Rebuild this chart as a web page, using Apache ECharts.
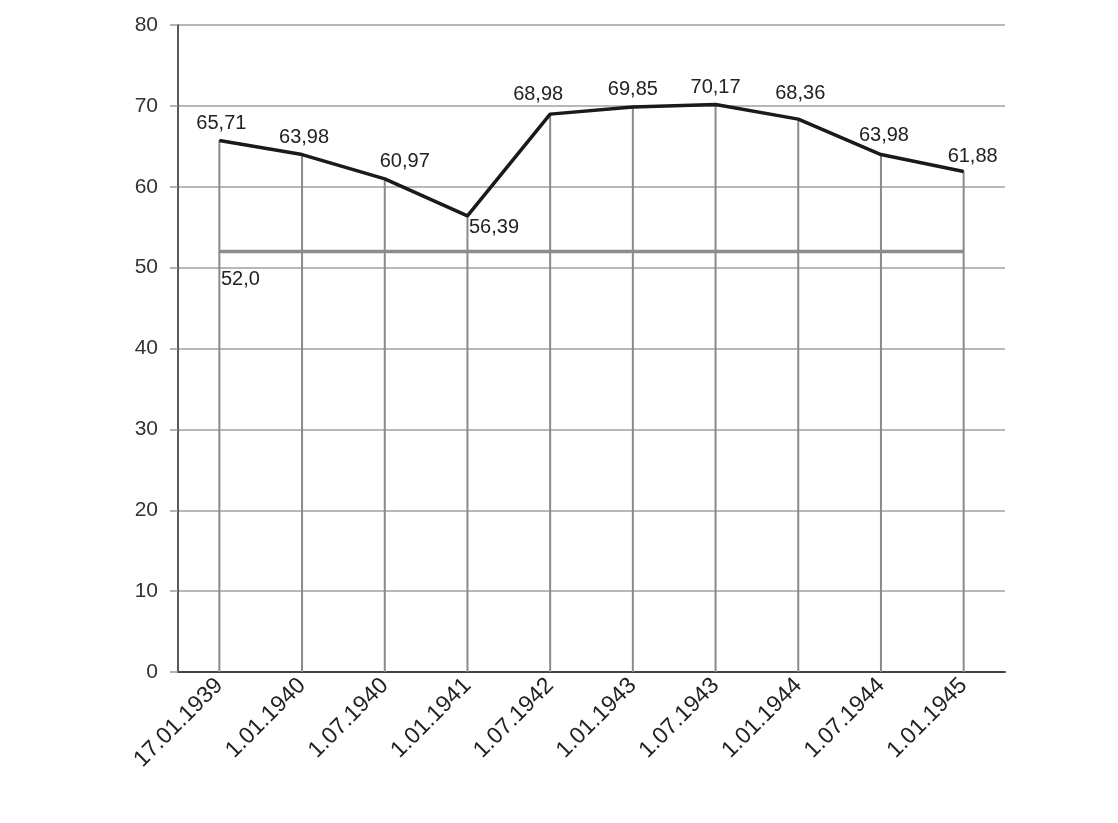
<!DOCTYPE html>
<html>
<head>
<meta charset="utf-8">
<script src="https://cdn.jsdelivr.net/npm/echarts@6/dist/echarts.min.js"></script>
<style>html,body{margin:0;padding:0;background:#fff}#c{width:1118px;height:823px}</style>
</head>
<body>
<div id="c"></div>
<script>
const categories = ['17.01.1939','1.01.1940','1.07.1940','1.01.1941','1.07.1942','1.01.1943','1.07.1943','1.01.1944','1.07.1944','1.01.1945'];
const values = [65.71, 63.98, 60.97, 56.39, 68.98, 69.85, 70.17, 68.36, 63.98, 61.88];
const normValues = [52.0, 52.0, 52.0, 52.0, 52.0, 52.0, 52.0, 52.0, 52.0, 52.0];
const yTicks = [0, 10, 20, 30, 40, 50, 60, 70, 80];

const labelStyles = [
  {position:'top', offset:[2,-2]},
  {position:'top', offset:[2,-2]},
  {position:'top', offset:[20,-2]},
  {position:'right', offset:[-4,12]},
  {position:'top', offset:[-12,-4]},
  {position:'top', offset:[0,-2]},
  {position:'top', offset:[0,-2]},
  {position:'top', offset:[2,-10]},
  {position:'top', offset:[3,-4]},
  {position:'top', offset:[9,0]}
];

const font = '"Liberation Sans", Arial, sans-serif';
const chart = echarts.init(document.getElementById('c'), null, {renderer:'canvas'});
chart.setOption({
  animation: false,
  backgroundColor: '#fff',
  grid: {left:178, right:113, top:25, bottom:151, containLabel:false},
  xAxis: {
    type:'category',
    data: categories,
    boundaryGap: true,
    axisLine: {show:true, lineStyle:{color:'#444', width:2}},
    axisTick: {show:false},
    splitLine: {show:false},
    axisLabel: {rotate:45, margin:10, color:'#222', fontSize:23, fontFamily:font, interval:0}
  },
  yAxis: {
    type:'value',
    min: yTicks[0], max: yTicks[yTicks.length-1], interval: 10,
    axisLine: {show:true, lineStyle:{color:'#222', width:1.5}},
    axisTick: {show:true, length:8, lineStyle:{color:'#999', width:1.5}},
    splitLine: {show:true, lineStyle:{color:'#a0a0a0', width:1.5}},
    axisLabel: {color:'#333', fontSize:21, fontFamily:font, margin:20}
  },
  series: [
    {
      type:'bar',
      data: values,
      barWidth: 2,
      itemStyle: {color:'#8a8a8a'},
      silent:true,
      z:1
    },
    {
      type:'line',
      data: normValues.map((v,i)=>({
        value:v,
        label: i===0 ? {show:true, position:'bottom', offset:[21,13], formatter: p=>p.value.toFixed(1).replace('.',','), color:'#222', fontSize:20, fontFamily:font} : {show:false}
      })),
      symbol:'circle',
      symbolSize:1,
      itemStyle:{color:'#8c8c8c'},
      lineStyle: {color:'#8c8c8c', width:3.5},
      z:2
    },
    {
      type:'line',
      data: values.map((v,i)=>({value:v, label:Object.assign({show:true}, labelStyles[i])})),
      symbol:'circle',
      symbolSize:1,
      itemStyle:{color:'#1a1a1a'},
      lineStyle: {color:'#1a1a1a', width:3.5},
      label: {color:'#222', fontSize:20, fontFamily:font, formatter: p=>p.value.toFixed(2).replace('.',',')},
      z:3
    }
  ]
});
</script>
</body>
</html>
